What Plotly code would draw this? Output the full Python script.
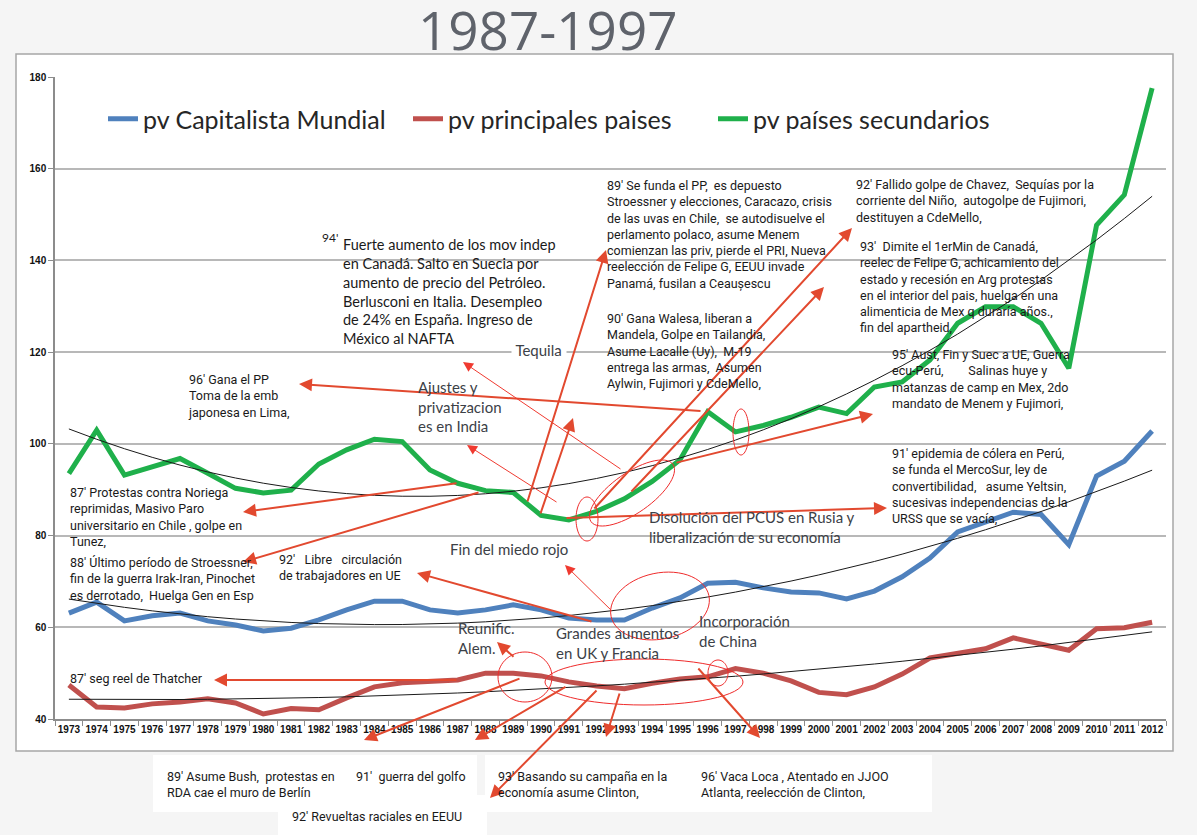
import math
import numpy as np
import plotly.graph_objects as go

# datos
years = [str(y) for y in range(1973, 2013)]
capitalista = [63.1, 65.5, 61.4, 62.5, 63.1, 61.4, 60.5, 59.2, 59.8, 61.6,
               63.8, 65.7, 65.7, 63.8, 63.1, 63.8, 64.9, 63.8, 62.0, 61.6,
               61.6, 64.2, 66.4, 69.6, 69.8, 68.6, 67.7, 67.5, 66.2, 67.9,
               71.0, 75.1, 80.8, 83.0, 85.1, 84.6, 78.0, 93.0, 96.2, 102.8]
principales = [47.4, 42.6, 42.4, 43.3, 43.7, 44.4, 43.5, 41.1, 42.3, 42.0,
               44.6, 47.0, 47.9, 48.1, 48.5, 50.0, 50.0, 49.4, 48.1, 47.2,
               46.6, 47.8, 48.7, 49.2, 51.0, 50.0, 48.3, 45.8, 45.3, 47.0,
               49.8, 53.3, 54.4, 55.3, 57.7, 56.4, 55.0, 59.7, 59.9, 61.1]
secundarios = [93.5, 103.0, 93.2, 95.0, 96.8, 93.6, 90.3, 89.3, 89.9, 95.6,
               98.7, 101.0, 100.5, 94.3, 91.4, 89.8, 89.4, 84.4, 83.4, 85.3,
               88.0, 91.8, 96.5, 107.0, 102.6, 104.0, 105.8, 108.0, 106.6, 112.4,
               113.5, 118.3, 126.3, 129.9, 129.9, 126.3, 116.5, 147.7, 154.3, 177.6]

series_names = ['pv Capitalista Mundial', 'pv principales paises', 'pv países secundarios']
series_colors = ['#4f81bd', '#c0504d', '#1fb04b']

# area del grafico en pixeles
L, R, T, B = 55, 1166, 77, 719
W, H = 1197, 835


def px(x):
    return (x - L) / (R - L)


def py(y):
    return (B - y) / (B - T)


NARROW = 'Roboto, sans-serif'
CAL = 'Lato, Noto Sans, sans-serif'
ROJO = '#e2492f'
ROJO2 = '#f03a30'

fig = go.Figure()

idx = np.arange(len(years))
for name, vals, col in zip(series_names, [capitalista, principales, secundarios], series_colors):
    fig.add_trace(go.Scatter(x=years, y=vals, name=name, mode='lines',
                             line=dict(color=col, width=5)))

# lineas de tendencia polinomica (orden 2)
for vals in [capitalista, principales, secundarios]:
    coef = np.polyfit(idx, vals, 2)
    fig.add_trace(go.Scatter(x=years, y=np.polyval(coef, idx), mode='lines',
                             line=dict(color='#1a1a1a', width=1), showlegend=False,
                             hoverinfo='skip'))

shapes = []
annotations = []

# marco blanco del grafico
shapes.append(dict(type='rect', xref='paper', yref='paper', layer='below',
                   x0=px(16), x1=px(1173), y0=py(751), y1=py(54),
                   fillcolor='white', line=dict(color='#a6a6a6', width=1.5)))
# cajas blancas de abajo
for x0, y0, x1, y1 in [(153, 755, 477, 812), (278, 795, 487, 835),
                       (485, 755, 688, 812), (688, 755, 932, 812)]:
    shapes.append(dict(type='rect', xref='paper', yref='paper', layer='below',
                       x0=px(x0), x1=px(x1), y0=py(y1), y1=py(y0),
                       fillcolor='white', line=dict(width=0)))


def ellipse(cx, cy, rx, ry, ang=0):
    a = math.radians(ang)
    pts = []
    for k in range(61):
        t = 2 * math.pi * k / 60
        ex, ey = rx * math.cos(t), ry * math.sin(t)
        x = cx + ex * math.cos(a) - ey * math.sin(a)
        y = cy - (ex * math.sin(a) + ey * math.cos(a))
        pts.append('%.5f,%.5f' % (px(x), py(y)))
    shapes.append(dict(type='path', xref='paper', yref='paper',
                       path='M' + ' L'.join(pts) + ' Z',
                       line=dict(color='#ef2b2b', width=1)))


ellipse(741, 432, 8, 23)
ellipse(632, 493, 50, 20, 35)
ellipse(587, 519, 11, 22)
ellipse(660, 606, 50, 33, 12)
ellipse(525, 677, 27, 25)
ellipse(644, 682, 99, 23)
ellipse(718, 673, 10, 13)


def arrow(tail, head, w=2, col=ROJO, size=1.3):
    annotations.append(dict(x=px(head[0]), y=py(head[1]), xref='paper', yref='paper',
                            ax=tail[0] - head[0], ay=tail[1] - head[1],
                            text='', showarrow=True, arrowhead=2, arrowsize=size,
                            arrowwidth=w, arrowcolor=col, standoff=0, startstandoff=0))


arrow((702, 411), (299, 384))
arrow((622, 470), (463, 362), 1, ROJO2, 2)
arrow((558, 503), (467, 445), 1, ROJO2, 2)
arrow((527, 503), (606, 250))
arrow((540, 515), (573, 418))
arrow((593, 510), (852, 228))
arrow((630, 493), (824, 287))
arrow((675, 463), (873, 414))
arrow((565, 518), (887, 508))
arrow((458, 483), (243, 512))
arrow((480, 492), (243, 562))
arrow((593, 622), (417, 573))
arrow((613, 612), (565, 565), 1, ROJO2, 2)
arrow((458, 680), (214, 680))
arrow((521, 678), (364, 740))
arrow((567, 686), (475, 740))
arrow((598, 689), (490, 798))
arrow((620, 692), (606, 737))
arrow((697, 667), (760, 738))
arrow((515, 658), (497, 642))


def note(text, x, y1, y2=None, size=12.5, family=NARROW, color='#1a1a1a', bg=None):
    yc = y1 if y2 is None else (y1 + y2) / 2
    a = dict(text=text, x=px(x), y=py(yc), xref='paper', yref='paper',
             xanchor='left', yanchor='middle', showarrow=False, align='left',
             font=dict(family=family, size=size, color=color), borderpad=0)
    if bg:
        a['bgcolor'] = bg
    annotations.append(a)


GRIS = '#3c4147'
note("94'", 321, 238, size=12, family=CAL)
note('Fuerte aumento de los mov indep<br>en Canadá. Salto en Suecia por<br>'
     'aumento de precio del Petróleo.<br>Berlusconi en Italia. Desempleo<br>'
     'de 24% en España. Ingreso de<br>México al NAFTA', 342, 240, 342, size=14.5, family=CAL)
note(' Tequila ', 511, 350, size=15, family=CAL, color=GRIS, bg='white')
note('Ajustes y<br>privatizacion<br>es en India', 417, 385, 427, size=15, family=CAL, color=GRIS)
note("96' Gana el PP<br>Toma de la emb<br>japonesa en Lima,", 187, 378, 413)
note("89' Se funda el PP,  es depuesto<br>Stroessner y elecciones, Caracazo, crisis<br>"
     "de las uvas en Chile,  se autodisuelve el<br>perlamento polaco, asume Menem<br>"
     "comienzan las priv, pierde el PRI, Nueva<br>reelección de Felipe G, EEUU invade<br>"
     "Panamá, fusilan a Ceaușescu", 606, 184, 285)
note("90' Gana Walesa, liberan a<br>Mandela, Golpe en Tailandia,<br>Asume Lacalle (Uy),  M-19<br>"
     "entrega las armas,  Asumen<br>Aylwin, Fujimori y CdeMello,", 606, 317, 384)
note("92' Fallido golpe de Chavez,  Sequías por la<br>corriente del Niño,  autogolpe de Fujimori,<br>"
     "destituyen a CdeMello,", 855, 184, 218)
note("93'  Dimite el 1erMin de Canadá,<br>reelec de Felipe G, achicamiento del<br>"
     "estado y recesión en Arg protestas<br>en el interior del pais, huelga en una<br>"
     "alimenticia de Mex q duraría años.,<br>fin del apartheid,", 859, 245, 329)
note("95' Aust, Fin y Suec a UE, Guerra<br>ecu-Perú,        Salinas huye y<br>"
     "matanzas de camp en Mex, 2do<br>mandato de Menem y Fujimori,", 891, 354, 404)
note("91' epidemia de cólera en Perú,<br>se funda el MercoSur, ley de<br>"
     "convertibilidad,   asume Yeltsin,<br>sucesivas independencias de la<br>"
     "URSS que se vacía,", 891, 452, 519)
note('Disolución del PCUS en Rusia y<br>liberalización de su economía', 648, 516, 537,
     size=15, family=CAL, color=GRIS)
note("87' Protestas contra Noriega<br>reprimidas, Masivo Paro<br>"
     "universitario en Chile , golpe en<br>Tunez,", 69, 492, 542)
note("88' Último período de Stroessner,<br>fin de la guerra Irak-Iran, Pinochet<br>"
     "es derrotado,  Huelga Gen en Esp", 69, 562, 596)
note("92'   Libre   circulación<br>de trabajadores en UE", 278, 559, 576)
note('Fin del miedo rojo', 449, 549, size=15, family=CAL, color=GRIS)
note("87' seg reel de Thatcher", 69, 678)
note('Reunific.<br>Alem.', 457, 628, 648, size=15, family=CAL, color=GRIS)
note('Grandes aumentos<br>en UK y Francia', 555, 633, 653, size=15, family=CAL, color=GRIS)
note('Incorporación<br>de China', 698, 621, 641, size=15, family=CAL, color=GRIS)
note("89' Asume Bush,  protestas en<br>RDA cae el muro de Berlín", 166, 777, 793)
note("91'  guerra del golfo", 355, 777)
note("92' Revueltas raciales en EEUU", 291, 817)
note("93' Basando su campaña en la<br>economía asume Clinton,", 497, 777, 793)
note("96' Vaca Loca , Atentado en JJOO<br>Atlanta, reelección de Clinton,", 700, 776, 792)

# titulo
annotations.append(dict(text='1987-1997', x=px(548), y=py(30), xref='paper', yref='paper',
                        showarrow=False, xanchor='center', yanchor='middle', borderpad=0,
                        font=dict(family='Open Sans, sans-serif', size=53, color='#5f636b')))

TICKFONT = dict(family='Liberation Sans, Arial, sans-serif', size=10, color='#111', weight='bold')

fig.update_layout(
    width=W, height=H,
    margin=dict(l=L, r=W - R, t=T, b=H - B),
    paper_bgcolor='#f5f5f5', plot_bgcolor='white',
    shapes=shapes, annotations=annotations,
    legend=dict(orientation='h', x=px(103), y=py(96), xanchor='left', yanchor='top',
                bgcolor='rgba(0,0,0,0)', font=dict(family=CAL, size=25, color='#262626'),
                itemwidth=30, entrywidth=260, entrywidthmode='pixels'),
    xaxis=dict(type='category', tickmode='array', tickvals=years, ticktext=years,
               tickson='boundaries', ticks='outside', ticklen=5, tickcolor='#8c8c8c',
               showline=True, linecolor='#8c8c8c', linewidth=1.5, showgrid=False,
               tickangle=0, range=[-0.5, 39.5], tickfont=TICKFONT),
    yaxis=dict(range=[40, 180], dtick=20, showgrid=True, gridcolor='#b8b8b8', gridwidth=1.5,
               showline=True, linecolor='#8c8c8c', linewidth=1.5, ticks='outside', ticklen=5,
               tickcolor='#8c8c8c', zeroline=False, tickfont=TICKFONT),
    showlegend=True,
)

fig.write_html('out.html', config={'displayModeBar': False},
               post_script="document.body.style.margin='0';")
